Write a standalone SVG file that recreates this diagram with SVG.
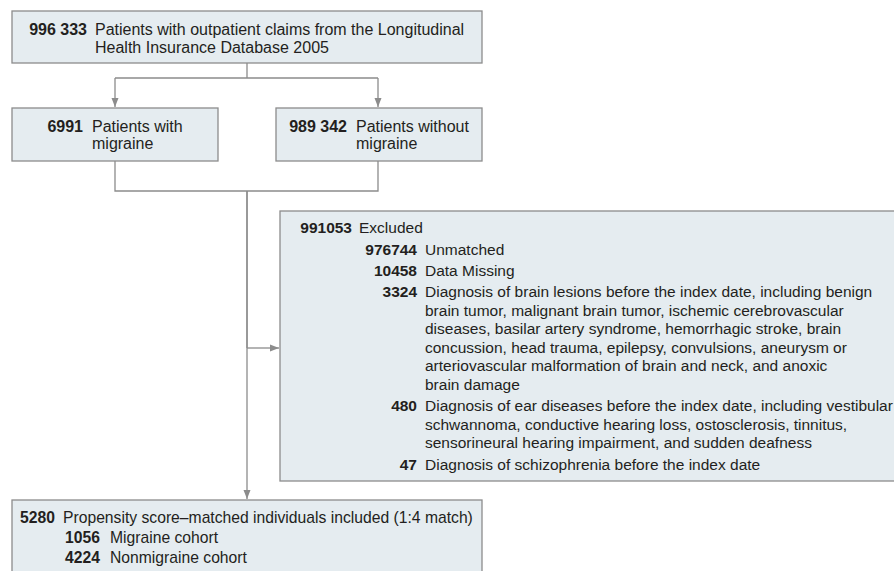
<svg xmlns="http://www.w3.org/2000/svg" width="894" height="571" viewBox="0 0 894 571">
<defs>
<marker id="ah" markerUnits="userSpaceOnUse" markerWidth="10" markerHeight="8" refX="9" refY="4" orient="auto">
<path d="M0,0.5 L9,4 L0,7.5 Z" fill="#8c8c8c"/>
</marker>
<style>
.box{fill:#e5ecf0;stroke:#8c8c8c;stroke-width:1.3}
.t{font-family:"Liberation Sans",Arial,sans-serif;font-size:16px;fill:#231f20}
.s{font-size:15.5px}
.b{font-size:15.7px}
.n{font-weight:bold;text-anchor:end}
.c{fill:none;stroke:#8c8c8c;stroke-width:1.3}
</style>
</defs>
<rect width="894" height="571" fill="#ffffff"/>
<g id="connectors">
<path class="c" d="M247,63 V78 M115,78 H378"/>
<path class="c" d="M115,78 V107" marker-end="url(#ah)"/>
<path class="c" d="M378,78 V107" marker-end="url(#ah)"/>
<path class="c" d="M115,161 V191 H378 V161 M247,191 V348"/>
<path class="c" d="M247,191 V499" marker-end="url(#ah)"/>
<path class="c" d="M247,348 H279" marker-end="url(#ah)"/>
</g>
<g id="source">
<rect class="box" x="12" y="11" width="470" height="52"/>
<text class="t n" x="87" y="35">996 333</text>
<text class="t" x="95" y="35">Patients with outpatient claims from the Longitudinal</text>
<text class="t" x="95" y="53">Health Insurance Database 2005</text>
</g>
<g id="migraine">
<rect class="box" x="12" y="108" width="206" height="53"/>
<text class="t n" x="83" y="132">6991</text>
<text class="t" x="92" y="132">Patients with</text>
<text class="t" x="92" y="149">migraine</text>
</g>
<g id="nomigraine">
<rect class="box" x="276" y="108" width="206" height="53"/>
<text class="t n" x="347" y="132">989 342</text>
<text class="t" x="356" y="132">Patients without</text>
<text class="t" x="356" y="149">migraine</text>
</g>
<g id="excluded">
<rect class="box" x="280" y="211" width="630" height="270"/>
<text class="t s n" x="352" y="233">991053</text>
<text class="t s" x="359" y="233">Excluded</text>
<text class="t s n" x="417" y="254.5">976744</text>
<text class="t s" x="425" y="254.5">Unmatched</text>
<text class="t s n" x="417" y="275.5">10458</text>
<text class="t s" x="425" y="275.5">Data Missing</text>
<text class="t s n" x="417" y="297">3324</text>
<text class="t s" x="425" y="297">Diagnosis of brain lesions before the index date, including benign</text>
<text class="t s" x="425" y="315.5">brain tumor, malignant brain tumor, ischemic cerebrovascular</text>
<text class="t s" x="425" y="334">diseases, basilar artery syndrome, hemorrhagic stroke, brain</text>
<text class="t s" x="425" y="352.5">concussion, head trauma, epilepsy, convulsions, aneurysm or</text>
<text class="t s" x="425" y="371">arteriovascular malformation of brain and neck, and anoxic</text>
<text class="t s" x="425" y="389.5">brain damage</text>
<text class="t s n" x="417" y="411">480</text>
<text class="t s" x="425" y="411">Diagnosis of ear diseases before the index date, including vestibular</text>
<text class="t s" x="425" y="429.5">schwannoma, conductive hearing loss, ostosclerosis, tinnitus,</text>
<text class="t s" x="425" y="448">sensorineural hearing impairment, and sudden deafness</text>
<text class="t s n" x="417" y="469.5">47</text>
<text class="t s" x="425" y="469.5">Diagnosis of schizophrenia before the index date</text>
</g>
<g id="included">
<rect class="box" x="12" y="500" width="470" height="80"/>
<text class="t b n" x="55" y="523">5280</text>
<text class="t b" x="63" y="523">Propensity score–matched individuals included (1:4 match)</text>
<text class="t b n" x="100" y="543">1056</text>
<text class="t b" x="110" y="543">Migraine cohort</text>
<text class="t b n" x="100" y="563">4224</text>
<text class="t b" x="110" y="563">Nonmigraine cohort</text>
</g>
</svg>
